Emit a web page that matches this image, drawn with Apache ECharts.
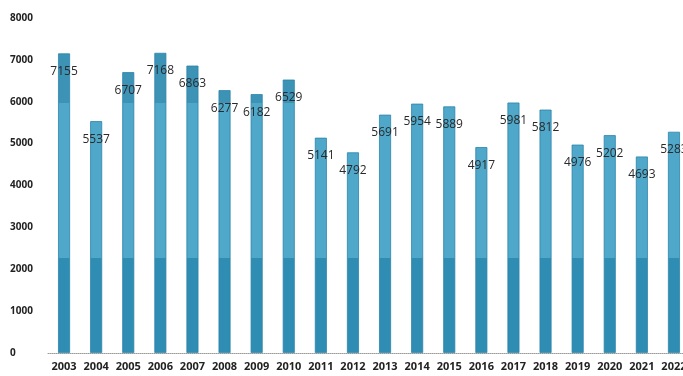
<!DOCTYPE html>
<html>
<head>
<meta charset="utf-8">
<script src="https://cdn.jsdelivr.net/npm/echarts@6/dist/echarts.min.js"></script>
<style>
  html, body { margin: 0; padding: 0; background: #fff; }
  #chart { width: 683px; height: 376px; }
</style>
</head>
<body>
<div id="chart"></div>
<script>
// Yearly totals, 2003–2022
const years = ['2003','2004','2005','2006','2007','2008','2009','2010','2011','2012',
               '2013','2014','2015','2016','2017','2018','2019','2020','2021','2022'];
const totals = [7155, 5537, 6707, 7168, 6863, 6277, 6182, 6529, 5141, 4792,
                5691, 5954, 5889, 4917, 5981, 5812, 4976, 5202, 4693, 5283];
const yTicks = [0, 1000, 2000, 3000, 4000, 5000, 6000, 7000, 8000];

const chart = echarts.init(document.getElementById('chart'), null, { renderer: 'canvas' });

// Banded fill shared by all bars (fixed in page space)
const barFill = {
  type: 'linear', x: 0, y: 0, x2: 0, y2: 376, global: true,
  colorStops: [
    { offset: 0.0, color: '#3c93b6' },
    { offset: 0.274, color: '#3c93b6' },
    { offset: 0.274, color: '#4fa8ca' },
    { offset: 0.686, color: '#4fa8ca' },
    { offset: 0.686, color: '#2f8cb3' },
    { offset: 1.0, color: '#2f8cb3' }
  ]
};

chart.setOption({
  animation: false,
  backgroundColor: '#fff',
  // plot area runs past the right edge of the page, so the last year is cut off
  grid: { left: 48, width: 642, top: 18, bottom: 23, containLabel: false, outerBoundsMode: 'none' },
  xAxis: {
    type: 'category',
    data: years,
    axisLine: { show: true, lineStyle: { color: '#9a9a9a', type: 'dotted', width: 1 } },
    axisTick: { show: false },
    axisLabel: {
      interval: 0, margin: 8,
      color: '#222', fontSize: 11, fontWeight: 'bold',
      fontFamily: 'Open Sans'
    }
  },
  yAxis: {
    type: 'value',
    min: 0, max: 8000, interval: 1000,
    splitLine: { show: false },
    axisLine: { show: false },
    axisTick: { show: false },
    axisLabel: {
      align: 'left', margin: 38,
      color: '#222', fontSize: 10, fontWeight: 'bold',
      fontFamily: 'Open Sans',
      formatter: v => yTicks.includes(v) ? String(v) : ''
    }
  },
  series: [{
    type: 'bar',
    data: totals,
    barWidth: 12,
    itemStyle: { color: barFill, borderColor: '#2b84aa', borderWidth: 0.8 },
    label: {
      show: true,
      position: 'insideTop',
      distance: 12,
      color: '#2a2a2a',
      fontSize: 12,
      fontFamily: 'Open Sans'
    }
  }]
});
</script>
</body>
</html>
